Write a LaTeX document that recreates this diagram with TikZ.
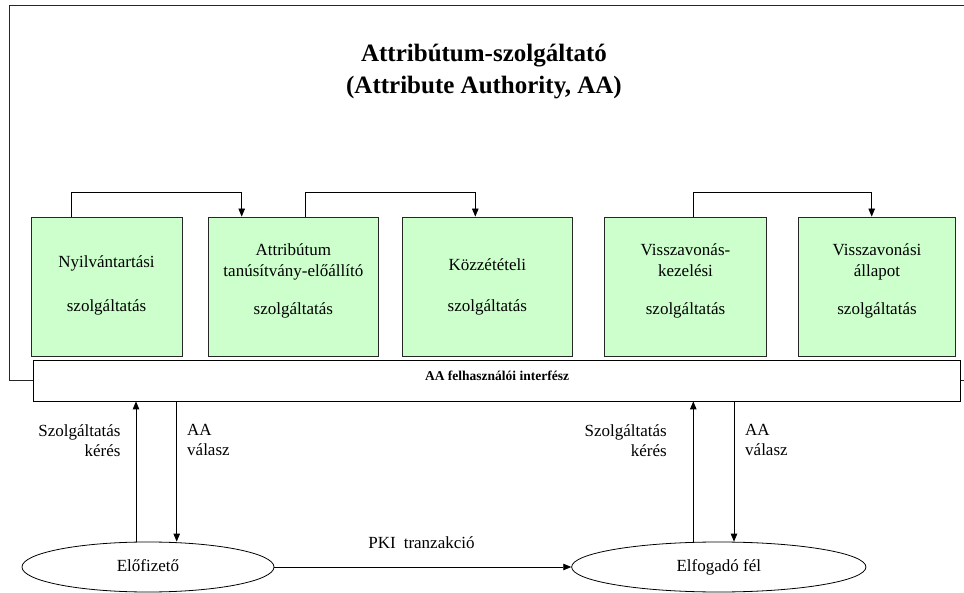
\documentclass[tikz,border=0pt]{standalone}
\usepackage{fontspec}
\setmainfont{Liberation Serif}
\usetikzlibrary{arrows.meta,shapes.geometric}
\definecolor{boxgreen}{RGB}{204,255,204}
\begin{document}
\begin{tikzpicture}[x=1pt,y=-1pt,
  svc/.style={draw=black!85, line width=0.8pt, fill=boxgreen, inner sep=0pt, minimum height=139pt},
  svctext/.style={align=center, font=\fontsize{17}{21.5}\selectfont, inner sep=0pt},
  lbl/.style={font=\fontsize{17}{20}\selectfont, inner sep=0pt},
  arr/.style={line width=0.8pt, -{Triangle[length=8pt,width=6.5pt]}},
  party/.style={ellipse, draw, line width=0.8pt, inner sep=0pt, text height=12pt, text depth=4pt, font=\fontsize{17}{20}\selectfont}
]
\useasboundingbox (0,0) rectangle (964,593);
\clip (0,0) rectangle (964,593);

% outer frame (partly hidden behind the interface bar)
\draw[line width=1.1pt, black!85] (33.3,380.7) -- (9.3,380.7) -- (9.3,5.3) -- (985,5.3) -- (985,380.7) -- (960.7,380.7);

% title
\node[font=\bfseries\fontsize{25}{32}\selectfont, align=center, inner sep=0pt] (title) at (484,72) {Attribútum-szolgáltató\\(Attribute Authority, AA)};

% service boxes
\node[svc, minimum width=151pt]   (b1) at (106.5,286.5) {};
\node[svc, minimum width=169.3pt] (b2) at (293.35,286.5) {};
\node[svc, minimum width=170pt]   (b3) at (487.3,286.5) {};
\node[svc, minimum width=162.4pt] (b4) at (685.5,286.5) {};
\node[svc, minimum width=157.4pt] (b5) at (877,286.5) {};

\node[svctext, yshift=1pt] (t1) at (b1) {Nyilvántartási\\[23pt]szolgáltatás};
\node[svctext, yshift=6pt] (t2) at (b2) {Attribútum\\tanúsítvány-előállító\\[16pt]szolgáltatás};
\node[svctext] (t3) at (b3) {Közzétételi\\[19.5pt]szolgáltatás};
\node[svctext, yshift=6pt] (t4) at (b4) {Visszavonás-\\kezelési\\[16pt]szolgáltatás};
\node[svctext, yshift=6pt] (t5) at (b5) {Visszavonási\\állapot\\[16pt]szolgáltatás};

% connectors between boxes
\draw[arr] ([xshift=-35.5pt]b1.north) -- ++(0,-24) -| ([xshift=-51.65pt]b2.north);
\draw[arr] ([xshift=12.35pt]b2.north) -- ++(0,-24) -| ([xshift=-12pt]b3.north);
\draw[arr] ([xshift=7.8pt]b4.north) -- ++(0,-24) -| ([xshift=-5.3pt]b5.north);

% user interface bar
\node[draw, line width=0.8pt, fill=white, minimum width=927.4pt, minimum height=40.5pt, inner sep=0pt] (iface) at (497,380.75) {};
\node[font=\bfseries\fontsize{13.5}{16}\selectfont, inner sep=0pt] (ifacelbl) at (497,376) {AA felhasználói interfész};

% parties
\node[party, minimum width=252pt, minimum height=50pt] (e1) at (148,567) {Előfizető};
\node[party, minimum width=294.3pt, minimum height=50pt] (e2) at (718.8,567) {Elfogadó fél};

\coordinate (a1) at ([xshift=-12pt]e1.north);
\coordinate (a2) at ([xshift=28.7pt]e1.north);
\coordinate (a3) at ([xshift=-25.5pt]e2.north);
\coordinate (a4) at ([xshift=15.2pt]e2.north);

\draw[arr] (a1) -- (a1 |- iface.south);
\draw[arr] (a2 |- iface.south) -- (a2);
\draw[arr] (a3) -- (a3 |- iface.south);
\draw[arr] (a4 |- iface.south) -- (a4);

\draw[arr] (e1.east) -- (e2.west);

% labels
\node[lbl, align=right, anchor=north east] (l1) at (120.7,424) {Szolgáltatás\\kérés};
\node[lbl, align=left, anchor=north west]  (l2) at (187,424) {AA\\válasz};
\node[lbl, align=right, anchor=north east] (l3) at (667,424) {Szolgáltatás\\kérés};
\node[lbl, align=left, anchor=north west]  (l4) at (745,424) {AA\\válasz};
\node[lbl, anchor=base] (pki) at (421.5,548) {PKI\hspace{8pt}tranzakció};
\end{tikzpicture}
\end{document}
